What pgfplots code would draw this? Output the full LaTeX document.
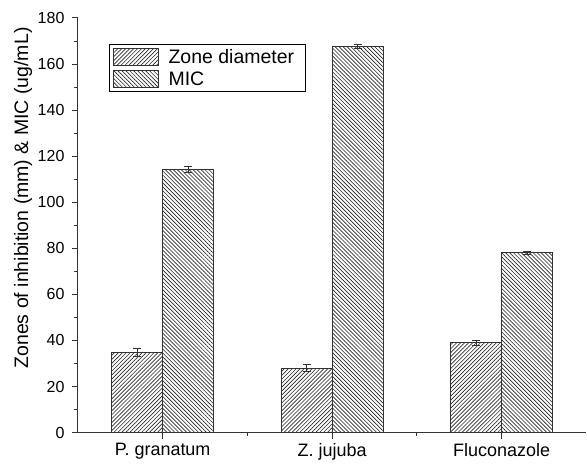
\documentclass[border=0pt]{standalone}
\usepackage{fontspec}
\setmainfont{Liberation Sans}
\usepackage{pgfplots}
\pgfplotsset{compat=1.18}
\usetikzlibrary{patterns.meta}
\definecolor{edgegray}{RGB}{50,50,50}

\tikzset{
  zonefill/.style={pattern={Lines[angle=45,distance=2.8pt,line width=0.65pt]},pattern color=black!85},
  micfill/.style={pattern={Lines[angle=-45,distance=2.8pt,line width=0.65pt]},pattern color=black!85},
}

\begin{document}
\begin{tikzpicture}
\begin{axis}[
    name=ax,
    width=509pt, height=415pt,
    scale only axis,
    axis lines*=left,
    axis line style={edgegray, line width=1.1pt},
    xmin=-0.5, xmax=2.5,
    ymin=0, ymax=180,
    xtick={0,1,2},
    xticklabels={P. granatum, Z. jujuba, Fluconazole},
    minor xtick={0.5,1.5},
    ytick={0,20,...,180},
    minor ytick={10,30,...,170},
    tick align=outside,
    major tick length=6pt,
    minor tick length=3.5pt,
    tick style={edgegray, line width=1pt},
    ticklabel style={font=\fontsize{16}{18}\selectfont},
    /pgf/number format/assume math mode=true,
    yticklabel style={xshift=-4pt},
    xticklabel style={yshift=-1pt, font=\fontsize{18}{20}\selectfont},
    ylabel={Zones of inhibition (mm) \& MIC (ug/mL)},
    every axis y label/.style={at={(ticklabel cs:0.566)}, rotate=90, anchor=south,
                               font=\fontsize{19.5}{22}\selectfont, inner sep=2pt},
    ybar,
    bar width=0.3,
    legend style={at={(0.061,0.937)}, anchor=north west, draw=black, line width=0.8pt,
                  font=\fontsize{19.5}{22}\selectfont, inner xsep=4pt, inner ysep=3pt, row sep=4pt,
                  nodes={inner sep=1.5pt},
                  cells={anchor=west},
                  /tikz/every odd column/.append style={column sep=8pt}},
    legend image code/.code={\draw[#1, draw=edgegray, line width=0.8pt] (0pt,-8.5pt) rectangle (45pt,8.5pt);},
    error bars/y dir=both,
    error bars/y explicit,
    error bars/error bar style={edgegray, line width=0.9pt},
    error bars/error mark options={rotate=90, mark size=4pt, edgegray, line width=0.9pt},
]
\addplot[bar shift=-0.15, draw=edgegray, line width=1pt, zonefill]
coordinates {
    (0,34.8) +- (0,1.9)
    (1,28.0) +- (0,1.4)
    (2,39.0) +- (0,1.2)
};
\addplot[bar shift=0.15, draw=edgegray, line width=1pt, micfill]
coordinates {
    (0,114.2) +- (0,1.2)
    (1,167.5) +- (0,0.8)
    (2,78.0) +- (0,0.8)
};
\legend{Zone diameter\hspace*{6pt}, MIC}
\end{axis}
\path ([xshift=-78pt,yshift=-29pt]ax.south west) rectangle ([yshift=18pt]ax.north east);
\end{tikzpicture}
\end{document}
